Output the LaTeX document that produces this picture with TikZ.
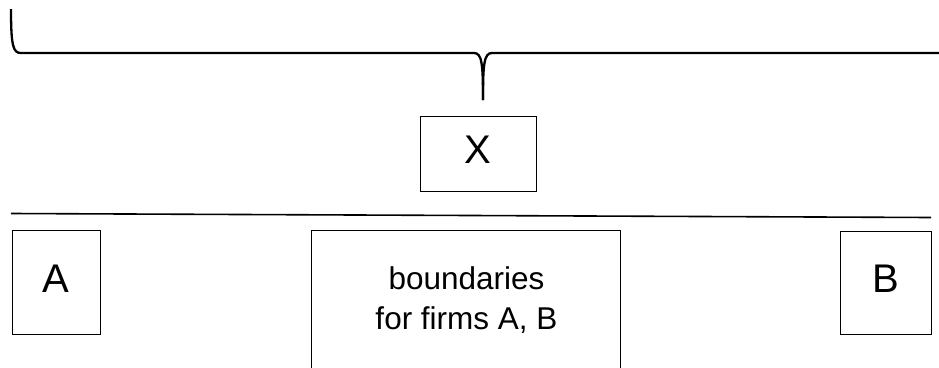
\documentclass[tikz,border=0pt]{standalone}
\usepackage{fontspec}
\setmainfont{Liberation Sans}
\begin{document}
\begin{tikzpicture}[x=1pt,y=-1pt,
  box/.style={draw=black, line width=1pt, rectangle, inner sep=0pt},
  letter/.style={font=\fontsize{40}{48}\selectfont, text depth=7pt},
  bracepath/.style={line width=2.3pt, line cap=butt},
  divider/.style={line width=1.6pt}]
  \useasboundingbox (0,0) rectangle (939,367);
  \clip (0,0) rectangle (939,367);

  % curly brace, opening at the left, tip pointing down at the centre
  \coordinate (braceL) at (11,9);
  \coordinate (braceTip) at (483,100);
  \coordinate (braceR) at (950,53);
  \draw[bracepath] (braceL) .. controls (11,46) and (13,53) .. (21,53)
    -- (474,53) .. controls (482,53) and (483,64) .. (braceTip);
  \draw[bracepath] (braceTip) .. controls (483,64) and (484,53) .. (492,53)
    -- (braceR);

  % top box
  \node[box, letter, minimum width=116pt, minimum height=75pt] (X) at (478,153.5) {X};

  % divider
  \coordinate (divL) at (11,213.5);
  \coordinate (divR) at (931,217.5);
  \draw[divider] (divL) -- (divR);

  % lower row
  \node[box, letter, minimum width=88pt, minimum height=104pt] (A) at (56,282) {A};
  \node[box, letter, minimum width=91pt, minimum height=103pt] (B) at (885.5,282.5) {B};
  \node[box, minimum width=309pt, minimum height=180pt, anchor=north] (firms) at (465.5,230) {};
  \node[align=center, font=\fontsize{31.5}{40}\selectfont] (firmstext) at (466.5,300) {boundaries\\for firms A, B};
\end{tikzpicture}
\end{document}
